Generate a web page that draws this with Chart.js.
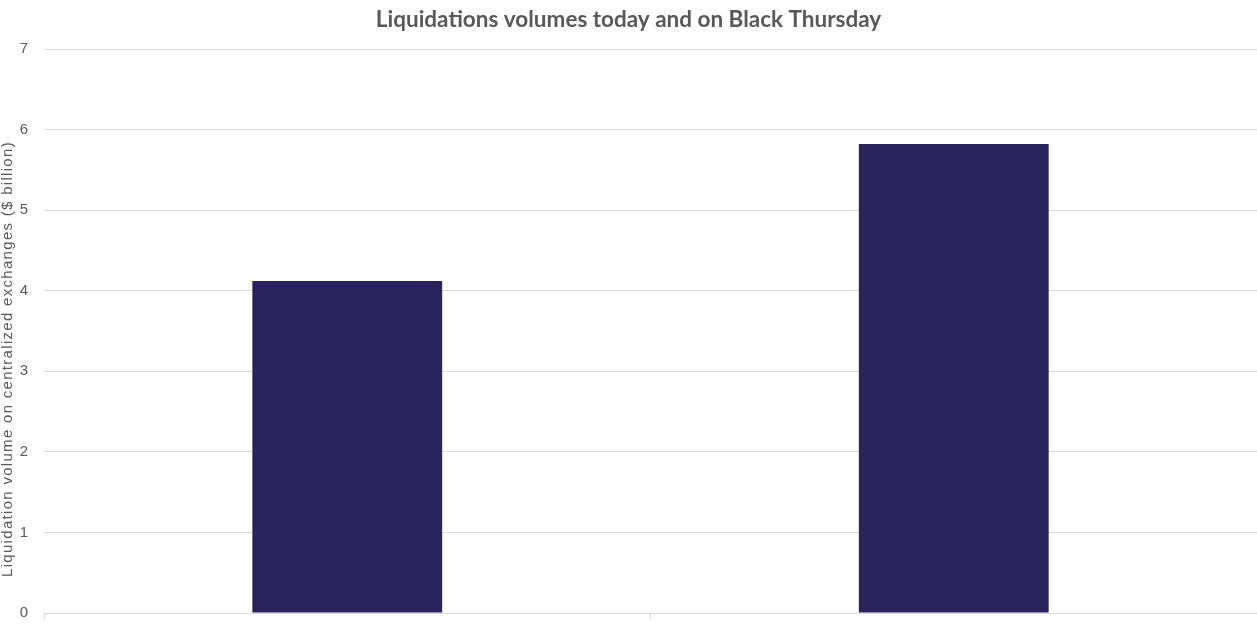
<!DOCTYPE html>
<html>
<head>
<meta charset="utf-8">
<script src="https://cdn.jsdelivr.net/npm/chart.js@4"></script>
<style>
    html, body { margin: 0; padding: 0; background: #ffffff; }
    /* 圖表比視窗略高，底部類別標籤跟原圖一樣被裁掉 */
    #wrap { width: 1257px; height: 629px; overflow: hidden; }
    #wrap canvas { display: block; }
</style>
</head>
<body>
<div id="wrap"><canvas id="liqChart" width="1257" height="656"></canvas></div>
<script>
// 類別與數值（單位：十億美元）
const CATEGORIES = ["Today", "Black Thursday"];
const LIQ_VOLUMES = [4.12, 5.82];
const Y_TICKS = [0, 1, 2, 3, 4, 5, 6, 7];
const Y_TITLE = "Liquidation volume on centralized exchanges ($ billion)";

const BAR_COLOR = "#2a225b";
const TEXT_GRAY = "#595959";
const GRID_GRAY = "#d9d9d9";
const AXIS_FONT = "'Liberation Sans', Arial, sans-serif";

Chart.defaults.font.family = "Lato, 'Noto Sans', sans-serif";

// y 軸標題：原圖字距較寬、位置偏下，Chart.js 內建標題做不到，改用小外掛自己畫
const yTitlePlugin = {
    id: "yTitle",
    afterDraw(chart) {
        const ctx = chart.ctx;
        const area = chart.chartArea;
        ctx.save();
        ctx.font = "15px " + AXIS_FONT;
        ctx.fillStyle = TEXT_GRAY;
        ctx.letterSpacing = "1.3px";
        ctx.textAlign = "center";
        ctx.textBaseline = "middle";
        ctx.translate(8, (area.top + area.bottom) / 2 + 28);
        ctx.rotate(-Math.PI / 2);
        ctx.fillText(Y_TITLE, 0, 0);
        ctx.restore();
    }
};

new Chart(document.getElementById("liqChart"), {
    type: "bar",
    data: {
        labels: CATEGORIES,
        datasets: [{
            data: LIQ_VOLUMES,
            backgroundColor: BAR_COLOR,
            categoryPercentage: 1,
            barPercentage: 0.313
        }]
    },
    options: {
        responsive: false,
        animation: false,
        layout: { padding: { left: 0, right: 0, top: 0, bottom: 3 } },
        plugins: {
            legend: { display: false },
            tooltip: { enabled: false },
            title: {
                display: true,
                text: "Liquidations volumes today and on Black Thursday",
                color: TEXT_GRAY,
                font: { size: 22.5, weight: "bold" },
                padding: { top: 6, bottom: 16 }
            }
        },
        scales: {
            x: {
                offset: true,
                grid: {
                    offset: true,
                    drawOnChartArea: false,
                    drawTicks: true,
                    tickLength: 6,
                    color: GRID_GRAY
                },
                border: { color: GRID_GRAY },
                ticks: { color: TEXT_GRAY, font: { size: 15, family: AXIS_FONT }, padding: 8 }
            },
            y: {
                min: 0,
                max: 7,
                afterBuildTicks: (scale) => {
                    scale.ticks = Y_TICKS.map((v) => ({ value: v }));
                },
                afterFit: (scale) => { scale.width = 44; },
                grid: { color: GRID_GRAY, drawTicks: false },
                border: { display: false },
                ticks: { color: TEXT_GRAY, font: { size: 15, family: AXIS_FONT }, padding: 16 }
            }
        }
    },
    plugins: [yTitlePlugin]
});
</script>
</body>
</html>
